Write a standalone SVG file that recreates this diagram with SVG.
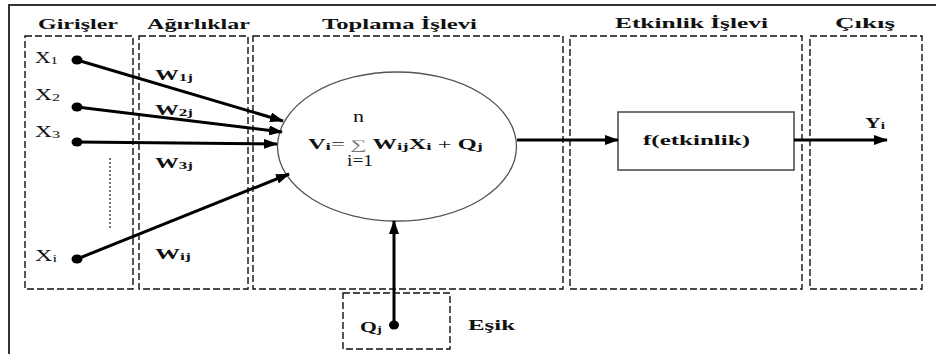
<svg xmlns="http://www.w3.org/2000/svg" width="936" height="354" viewBox="0 0 936 354">
<defs>
<style>
.frame{fill:none;stroke:#333;stroke-width:2}
.dash{fill:none;stroke:#111;stroke-width:1.4;stroke-dasharray:7 3}
.hd{font-family:"Liberation Serif","DejaVu Serif","Times New Roman",serif;font-weight:bold;font-size:15px;fill:#111}
.lbl{font-family:"Liberation Serif","DejaVu Serif","Times New Roman",serif;font-size:16px;fill:#111}
.b{font-family:"Liberation Serif","DejaVu Serif","Times New Roman",serif;font-weight:bold;font-size:14px;fill:#111}
.arr{stroke:#000;stroke-width:3;fill:none}
.dot{fill:#000}
</style>
<marker id="ah" markerUnits="userSpaceOnUse" markerWidth="14" markerHeight="10" refX="13" refY="5" orient="auto">
<path d="M0,0 L14,5 L0,10 Z" fill="#000"/>
</marker>
</defs>
<rect width="936" height="354" fill="#fff"/>
<path class="frame" d="M9,354 V5 H936"/>
<g id="girisler"><rect class="dash" x="25" y="36" width="108" height="253"/><text class="hd" x="38" y="29" textLength="80" lengthAdjust="spacingAndGlyphs">Girişler</text></g>
<g id="agirliklar"><rect class="dash" x="139" y="36" width="109" height="253"/><text class="hd" x="147" y="29" textLength="103" lengthAdjust="spacingAndGlyphs">Ağırlıklar</text></g>
<g id="toplama"><rect class="dash" x="253" y="36" width="310" height="253"/><text class="hd" x="322" y="29" textLength="155" lengthAdjust="spacingAndGlyphs">Toplama İşlevi</text></g>
<g id="etkinlik"><rect class="dash" x="570" y="36" width="232" height="253"/><text class="hd" x="615" y="28" textLength="153" lengthAdjust="spacingAndGlyphs">Etkinlik İşlevi</text></g>
<g id="cikis"><rect class="dash" x="810" y="36" width="112" height="253"/><text class="hd" x="835" y="28" textLength="60" lengthAdjust="spacingAndGlyphs">Çıkış</text></g>
<g id="inputs">
<text class="lbl" x="35" y="63" textLength="23" lengthAdjust="spacingAndGlyphs">X<tspan font-size="11" dy="1">1</tspan></text>
<text class="lbl" x="35" y="100" textLength="25" lengthAdjust="spacingAndGlyphs">X<tspan font-size="11" dy="1">2</tspan></text>
<text class="lbl" x="35" y="137" textLength="25" lengthAdjust="spacingAndGlyphs">X<tspan font-size="11" dy="1">3</tspan></text>
<text class="lbl" x="35" y="261" textLength="22" lengthAdjust="spacingAndGlyphs">X<tspan font-size="11" dy="1">i</tspan></text>
<ellipse class="dot" cx="77" cy="60" rx="5.5" ry="4.5"/>
<ellipse class="dot" cx="77" cy="107" rx="5.5" ry="4.5"/>
<ellipse class="dot" cx="77" cy="142" rx="5.5" ry="4.5"/>
<ellipse class="dot" cx="77" cy="259" rx="5.5" ry="4.5"/>
<line x1="110" y1="158" x2="110" y2="228" stroke="#777" stroke-width="2" stroke-dasharray="2 2"/>
</g>
<g id="weights">
<text class="b" x="155" y="80" textLength="38" lengthAdjust="spacingAndGlyphs">W<tspan font-size="10" dy="1">1j</tspan></text>
<text class="b" x="155" y="115" textLength="38" lengthAdjust="spacingAndGlyphs">W<tspan font-size="10" dy="1">2j</tspan></text>
<text class="b" x="155" y="168" textLength="38" lengthAdjust="spacingAndGlyphs">W<tspan font-size="10" dy="1">3j</tspan></text>
<text class="b" x="155" y="259" textLength="36" lengthAdjust="spacingAndGlyphs">W<tspan font-size="10" dy="1">ij</tspan></text>
</g>
<g id="sum">
<ellipse cx="397" cy="146.5" rx="119.5" ry="74.5" fill="none" stroke="#555" stroke-width="1.3"/>
<text class="lbl" x="353" y="122" font-size="15" textLength="11" lengthAdjust="spacingAndGlyphs">n</text>
<text class="b" x="308" y="149" font-size="16" textLength="175" lengthAdjust="spacingAndGlyphs">V<tspan font-size="11" dy="1">i</tspan><tspan dy="-1" font-weight="normal">=</tspan> <tspan font-weight="normal" font-size="13" fill="#777">∑</tspan> W<tspan font-size="11" dy="1">ij</tspan><tspan dy="-1">X</tspan><tspan font-size="11" dy="1">i</tspan><tspan dy="-1" font-weight="normal"> + </tspan>Q<tspan font-size="11" dy="1">j</tspan></text>
<text class="lbl" x="347" y="166" font-size="15" textLength="26" lengthAdjust="spacingAndGlyphs">i=1</text>
</g>
<g id="activation">
<rect x="618" y="112" width="176" height="58" fill="none" stroke="#444" stroke-width="1.5"/>
<text class="b" x="643" y="145" textLength="107" lengthAdjust="spacingAndGlyphs">f(etkinlik)</text>
</g>
<g id="output"><text class="b" x="865" y="128" textLength="20" lengthAdjust="spacingAndGlyphs">Y<tspan font-size="10" dy="1">i</tspan></text></g>
<g id="threshold">
<rect class="dash" x="343" y="293" width="107" height="56" stroke-width="1.2"/>
<text class="b" x="360" y="332" textLength="22" lengthAdjust="spacingAndGlyphs">Q<tspan font-size="10" dy="1">j</tspan></text>
<ellipse class="dot" cx="394" cy="325" rx="5" ry="4.5"/>
<text class="b" x="468" y="330" textLength="47" lengthAdjust="spacingAndGlyphs">Eşik</text>
</g>
<g id="connectors">
<line class="arr" x1="77" y1="60" x2="283" y2="121" marker-end="url(#ah)"/>
<line class="arr" x1="77" y1="107" x2="282" y2="132" marker-end="url(#ah)"/>
<line class="arr" x1="77" y1="142" x2="277" y2="144" marker-end="url(#ah)"/>
<line class="arr" x1="77" y1="259" x2="289" y2="174" marker-end="url(#ah)"/>
<line class="arr" x1="517" y1="140" x2="618" y2="140" stroke-width="4" marker-end="url(#ah)"/>
<line class="arr" x1="794" y1="140" x2="887" y2="140" stroke-width="2" marker-end="url(#ah)"/>
<line class="arr" x1="394" y1="325" x2="394" y2="221" stroke-width="4" marker-end="url(#ah)"/>
</g>
</svg>
